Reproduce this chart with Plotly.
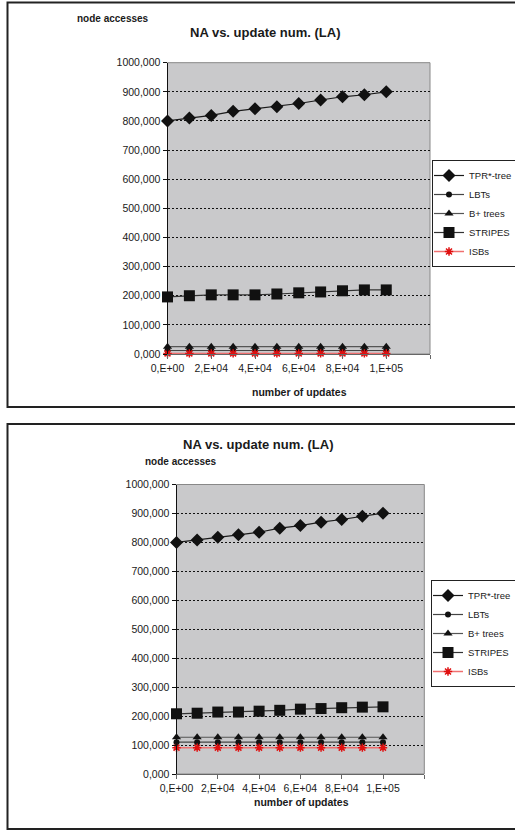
import plotly.graph_objects as go

W, H = 515, 831

updates = [0, 10000, 20000, 30000, 40000, 50000, 60000, 70000, 80000, 90000, 100000]
series_names = ["TPR*-tree", "LBTs", "B+ trees", "STRIPES", "ISBs"]

top_tpr = [800000, 810000, 819000, 833000, 842000, 849000, 860000, 872000, 883000, 890000, 900000]
top_lbt = [12000, 12000, 12000, 12000, 12000, 12000, 12000, 12000, 12000, 12000, 12000]
top_bplus = [25000, 25000, 25000, 25000, 25000, 25000, 25000, 25000, 25000, 25000, 25000]
top_stripes = [196000, 200000, 203000, 203000, 203000, 206000, 210000, 213000, 217000, 220000, 220000]
top_isb = [2000, 2000, 2000, 2000, 2000, 2000, 2000, 2000, 2000, 2000, 2000]

bot_tpr = [800000, 808000, 818000, 826000, 835000, 849000, 858000, 870000, 879000, 890000, 901000]
bot_lbt = [110000, 110000, 110000, 110000, 110000, 110000, 110000, 110000, 110000, 110000, 110000]
bot_bplus = [127000, 127000, 127000, 127000, 127000, 127000, 127000, 127000, 127000, 127000, 127000]
bot_stripes = [208000, 210000, 214000, 214000, 217000, 220000, 224000, 226000, 229000, 231000, 232000]
bot_isb = [91000, 91000, 91000, 91000, 91000, 91000, 91000, 91000, 91000, 91000, 91000]

y_tickvals = [0, 100000, 200000, 300000, 400000, 500000, 600000, 700000, 800000, 900000, 1000000]
y_ticktext = ["0,000", "100,000", "200,000", "300,000", "400,000", "500,000",
              "600,000", "700,000", "800,000", "900,000", "1000,000"]
x_tickvals = [0, 20000, 40000, 60000, 80000, 100000, 120000]
x_ticktext = ["0,E+00", "2,E+04", "4,E+04", "6,E+04", "8,E+04", "1,E+05", ""]

title_text = "NA vs. update num. (LA)"
ytitle_text = "node accesses"
xtitle_text = "number of updates"

FONT = "Arial, Liberation Sans, sans-serif"
TXT = "#1a1a1a"

styles = [
    dict(line=dict(color="#1a1a1a", width=1.2), marker=dict(symbol="diamond", size=10, color="#111")),
    dict(line=dict(color="#444", width=1.2), marker=dict(symbol="circle", size=6, color="#111")),
    dict(line=dict(color="#555", width=1.2), marker=dict(symbol="triangle-up", size=8, color="#111")),
    dict(line=dict(color="#333", width=1.2), marker=dict(symbol="square", size=11, color="#111")),
    dict(line=dict(color="#f07070", width=1.5), marker=dict(symbol="asterisk", size=7, color="#e01010",
                                                            line=dict(color="#e01010", width=1.5))),
]

fig = go.Figure()

def px_x(p):
    return p / W

def px_y(p):
    return 1 - p / H

top_data = [top_tpr, top_lbt, top_bplus, top_stripes, top_isb]
bot_data = [bot_tpr, bot_lbt, bot_bplus, bot_stripes, bot_isb]

for name, vals, st in zip(series_names, top_data, styles):
    fig.add_trace(go.Scatter(x=updates, y=vals, name=name, mode="lines+markers",
                             line=st["line"], marker=st["marker"], cliponaxis=False,
                             xaxis="x", yaxis="y", legend="legend"))
for name, vals, st in zip(series_names, bot_data, styles):
    fig.add_trace(go.Scatter(x=updates, y=vals, name=name, mode="lines+markers",
                             line=st["line"], marker=st["marker"], cliponaxis=False,
                             xaxis="x2", yaxis="y2", legend="legend2"))

def xaxis_cfg(domain, anchor):
    return dict(domain=domain, anchor=anchor, range=[0, 120000], tickvals=x_tickvals, ticktext=x_ticktext,
                showgrid=False, zeroline=False, showline=True, linecolor="#666", linewidth=1,
                ticks="outside", ticklen=4, tickcolor="#666", automargin=False,
                tickfont=dict(family=FONT, size=10.5, color=TXT))

def yaxis_cfg(domain, anchor):
    return dict(domain=domain, anchor=anchor, range=[0, 1000000], tickvals=y_tickvals, ticktext=y_ticktext,
                showgrid=True, gridcolor="#111", gridwidth=1, griddash="2px,2px",
                zeroline=False, showline=True, linecolor="#111", linewidth=1,
                ticks="outside", ticklen=4, tickcolor="#111", automargin=False,
                tickfont=dict(family=FONT, size=10.5, color=TXT))

top_box = (167.5, 430.0, 62.7, 354.0)
bot_box = (176.5, 424.3, 484.5, 774.0)

leg_common = dict(xanchor="left", yanchor="top", bgcolor="white", bordercolor="#222", borderwidth=1,
                  font=dict(family=FONT, size=9.5, color=TXT), itemwidth=30, tracegroupgap=0,
                  indentation=-4)

fig.update_layout(
    width=W, height=H, margin=dict(l=0, r=0, t=0, b=0, autoexpand=False),
    paper_bgcolor="white", plot_bgcolor="#c9c9cb",
    xaxis=xaxis_cfg([px_x(top_box[0]), px_x(top_box[1])], "y"),
    yaxis=yaxis_cfg([px_y(top_box[3]), px_y(top_box[2])], "x"),
    xaxis2=xaxis_cfg([px_x(bot_box[0]), px_x(bot_box[1])], "y2"),
    yaxis2=yaxis_cfg([px_y(bot_box[3]), px_y(bot_box[2])], "x2"),
    legend=dict(x=px_x(432), y=px_y(160), **leg_common),
    legend2=dict(x=px_x(431), y=px_y(580), **leg_common),
    showlegend=True,
)

shapes = []
# outer chart frames
shapes.append(dict(type="rect", xref="paper", yref="paper", x0=px_x(7.5), x1=px_x(520),
                   y0=px_y(407), y1=px_y(2.5), line=dict(color="#222", width=2), layer="above"))
shapes.append(dict(type="rect", xref="paper", yref="paper", x0=px_x(7.5), x1=px_x(520),
                   y0=px_y(829), y1=px_y(424), line=dict(color="#222", width=2), layer="above"))
# plot area borders (gray)
for xr, yr in (("x", "y"), ("x2", "y2")):
    shapes.append(dict(type="rect", xref=xr + " domain", yref=yr + " domain", x0=0, x1=1, y0=0, y1=1,
                       line=dict(color="#888", width=1), layer="below"))
fig.update_layout(shapes=shapes)

ann = []
# top chart texts
ann.append(dict(text="<b>" + title_text + "</b>", x=px_x(265), y=px_y(23), xref="paper", yref="paper",
                showarrow=False, font=dict(family=FONT, size=13, color=TXT)))
ann.append(dict(text="<b>" + ytitle_text + "</b>", x=px_x(75), y=px_y(11), xref="paper", yref="paper",
                showarrow=False, font=dict(family=FONT, size=10, color=TXT)))
ann.append(dict(text="<b>" + xtitle_text + "</b>", x=px_x(299), y=px_y(392), xref="paper", yref="paper",
                showarrow=False, font=dict(family=FONT, size=10.5, color=TXT)))
# bottom chart texts
ann.append(dict(text="<b>" + title_text + "</b>", x=px_x(258), y=px_y(444), xref="paper", yref="paper",
                showarrow=False, font=dict(family=FONT, size=13, color=TXT)))
ann.append(dict(text="<b>" + ytitle_text + "</b>", x=px_x(143), y=px_y(461), xref="paper", yref="paper",
                showarrow=False, font=dict(family=FONT, size=10, color=TXT)))
ann.append(dict(text="<b>" + xtitle_text + "</b>", x=px_x(301), y=px_y(810), xref="paper", yref="paper",
                showarrow=False, font=dict(family=FONT, size=10.5, color=TXT)))
fig.update_layout(annotations=ann)

fig.write_html("out.html")
